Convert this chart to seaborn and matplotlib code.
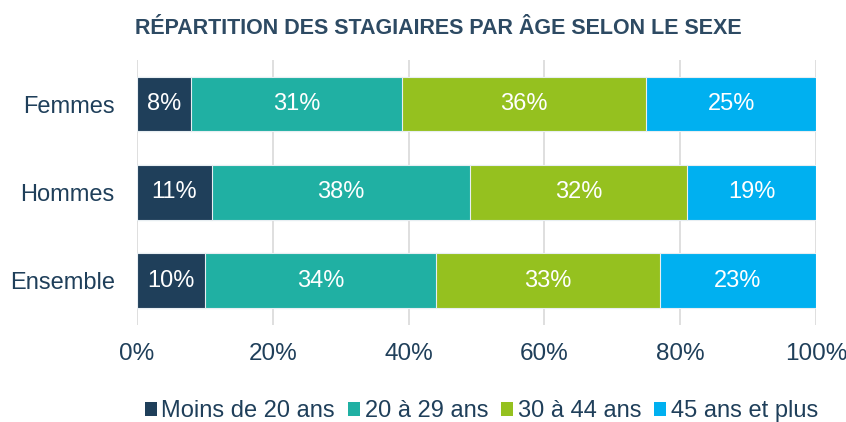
import numpy as np
import pandas as pd
import matplotlib.pyplot as plt
import seaborn as sns
from matplotlib.patches import Patch

groups = ['Femmes', 'Hommes', 'Ensemble']
ages = ['Moins de 20 ans', '20 à 29 ans', '30 à 44 ans', '45 ans et plus']
femmes = [8, 31, 36, 25]
hommes = [11, 38, 32, 19]
ensemble = [10, 34, 33, 23]
colors = ['#1f3f5a', '#20b0a3', '#95c11f', '#00b0f0']
text_col = '#1f3f5a'

sns.set_style('white')
plt.rcParams['font.family'] = ['Liberation Sans', 'DejaVu Sans']

values = np.array([femmes, hommes, ensemble])
cum = values.cumsum(axis=1)
df = pd.DataFrame(cum, columns=ages)
df['groupe'] = groups

fig, ax = plt.subplots(figsize=(8.46, 4.22), dpi=100)
fig.subplots_adjust(left=0.162, right=0.9645, top=0.858, bottom=0.23)

# stacked bars: draw cumulative totals from the largest down
for i in range(len(ages) - 1, -1, -1):
    sns.barplot(data=df, x=ages[i], y='groupe', color=colors[i], width=0.62,
                edgecolor='#e8eef2', linewidth=0.8, saturation=1, ax=ax, zorder=3)

for r, g in enumerate(groups):
    starts = cum[r] - values[r]
    for j, v in enumerate(values[r]):
        ax.text(starts[j] + v / 2, r, f'{v}%', ha='center', va='center',
                color='white', fontsize=17, zorder=4)

ax.set_xlim(0, 100)
ax.set_ylim(2.5, -0.5)
ax.set_xticks(range(0, 101, 20))
ax.set_xticklabels([f'{t}%' for t in range(0, 101, 20)])
ax.xaxis.grid(True, color='#d9d9d9', linewidth=1.2, zorder=0)
ax.set_axisbelow(True)
ax.set_xlabel('')
ax.set_ylabel('')
for s in ax.spines.values():
    s.set_visible(False)
ax.tick_params(axis='both', length=0, labelcolor=text_col)
ax.tick_params(axis='x', pad=13, labelsize=17.5)
ax.tick_params(axis='y', pad=16, labelsize=17)

fig.text(0.518, 0.933, 'RÉPARTITION DES STAGIAIRES PAR ÂGE SELON LE SEXE',
         ha='center', va='center', fontsize=15.5, fontweight='bold', color='#2d4a63')

handles = [Patch(facecolor=c, edgecolor='none') for c in colors]
leg = fig.legend(handles, ages, loc='center', bbox_to_anchor=(0.569, 0.025), ncol=4,
                 frameon=False, fontsize=17, handlelength=0.5, handleheight=0.5,
                 handletextpad=0.2, columnspacing=0.55, labelcolor=text_col)

fig.savefig('out.png', dpi=100)
